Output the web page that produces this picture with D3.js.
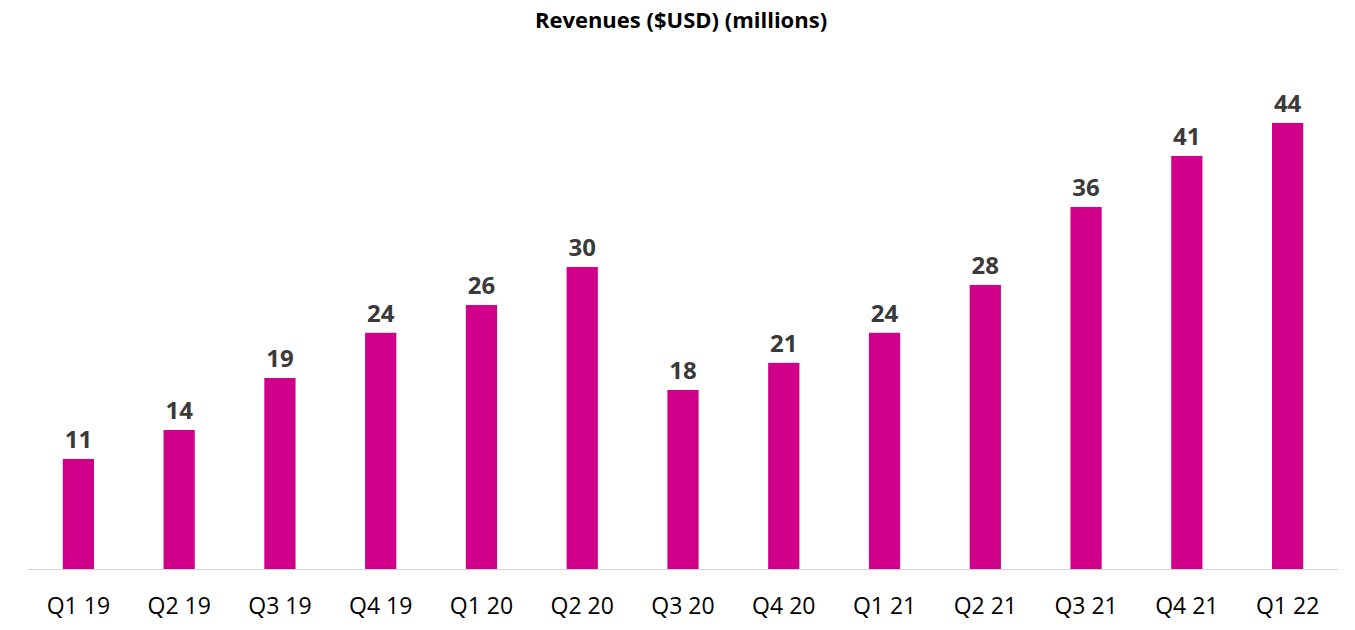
<!DOCTYPE html>
<html>
<head>
<meta charset="utf-8">
<script src="https://cdn.jsdelivr.net/npm/d3@7"></script>
<style>
  html, body { margin: 0; padding: 0; background: #ffffff; }
  svg { display: block; }
</style>
</head>
<body>
<svg id="chart" width="1355" height="630"></svg>
<script>
const categories = ["Q1 19","Q2 19","Q3 19","Q4 19","Q1 20","Q2 20","Q3 20","Q4 20","Q1 21","Q2 21","Q3 21","Q4 21","Q1 22"];
const revenues = [10.97, 13.86, 19.04, 23.55, 26.32, 30.11, 17.85, 20.55, 23.55, 28.32, 36.09, 41.18, 44.47];
const title = "Revenues ($USD) (millions)";

const svg = d3.select("#chart");
const baseY = 569;

const x = d3.scaleBand()
  .domain(categories)
  .range([28, 1338])
  .paddingInner(0.69)
  .paddingOuter(0.345);

const y = d3.scaleLinear()
  .domain([0, 50])
  .range([baseY, baseY - 50 * 10.03]);

const data = categories.map((c, i) => ({ cat: c, value: revenues[i] }));

// title
svg.append("text")
  .attr("x", 681)
  .attr("y", 28)
  .attr("text-anchor", "middle")
  .attr("font-family", "'Open Sans', sans-serif")
  .attr("font-weight", 700)
  .attr("font-size", 22)
  .attr("fill", "#000")
  .text(title);

// bars
svg.append("g").selectAll("rect")
  .data(data)
  .join("rect")
  .attr("x", d => x(d.cat))
  .attr("y", d => y(d.value))
  .attr("width", x.bandwidth())
  .attr("height", d => y(0) - y(d.value))
  .attr("fill", "#d1008b");

// value labels
svg.append("g").selectAll("text")
  .data(data)
  .join("text")
  .attr("x", d => x(d.cat) + x.bandwidth() / 2)
  .attr("y", d => y(d.value) - 11)
  .attr("text-anchor", "middle")
  .attr("font-family", "'Open Sans', sans-serif")
  .attr("font-weight", 700)
  .attr("font-size", 24)
  .attr("fill", "#3a3a3a")
  .text(d => Math.round(d.value));

// x axis
const xAxis = d3.axisBottom(x).tickSize(0).tickPadding(0);
const gx = svg.append("g")
  .attr("transform", `translate(0,${baseY})`)
  .call(xAxis);
gx.select(".domain")
  .attr("d", `M28,0.5H1338`)
  .attr("stroke", "#d4d4d4")
  .attr("stroke-width", 1.2);
gx.selectAll(".tick text")
  .attr("y", 45)
  .attr("dy", 0)
  .attr("font-family", "'Open Sans', sans-serif")
  .attr("font-size", 23)
  .attr("fill", "#000");
</script>
</body>
</html>
